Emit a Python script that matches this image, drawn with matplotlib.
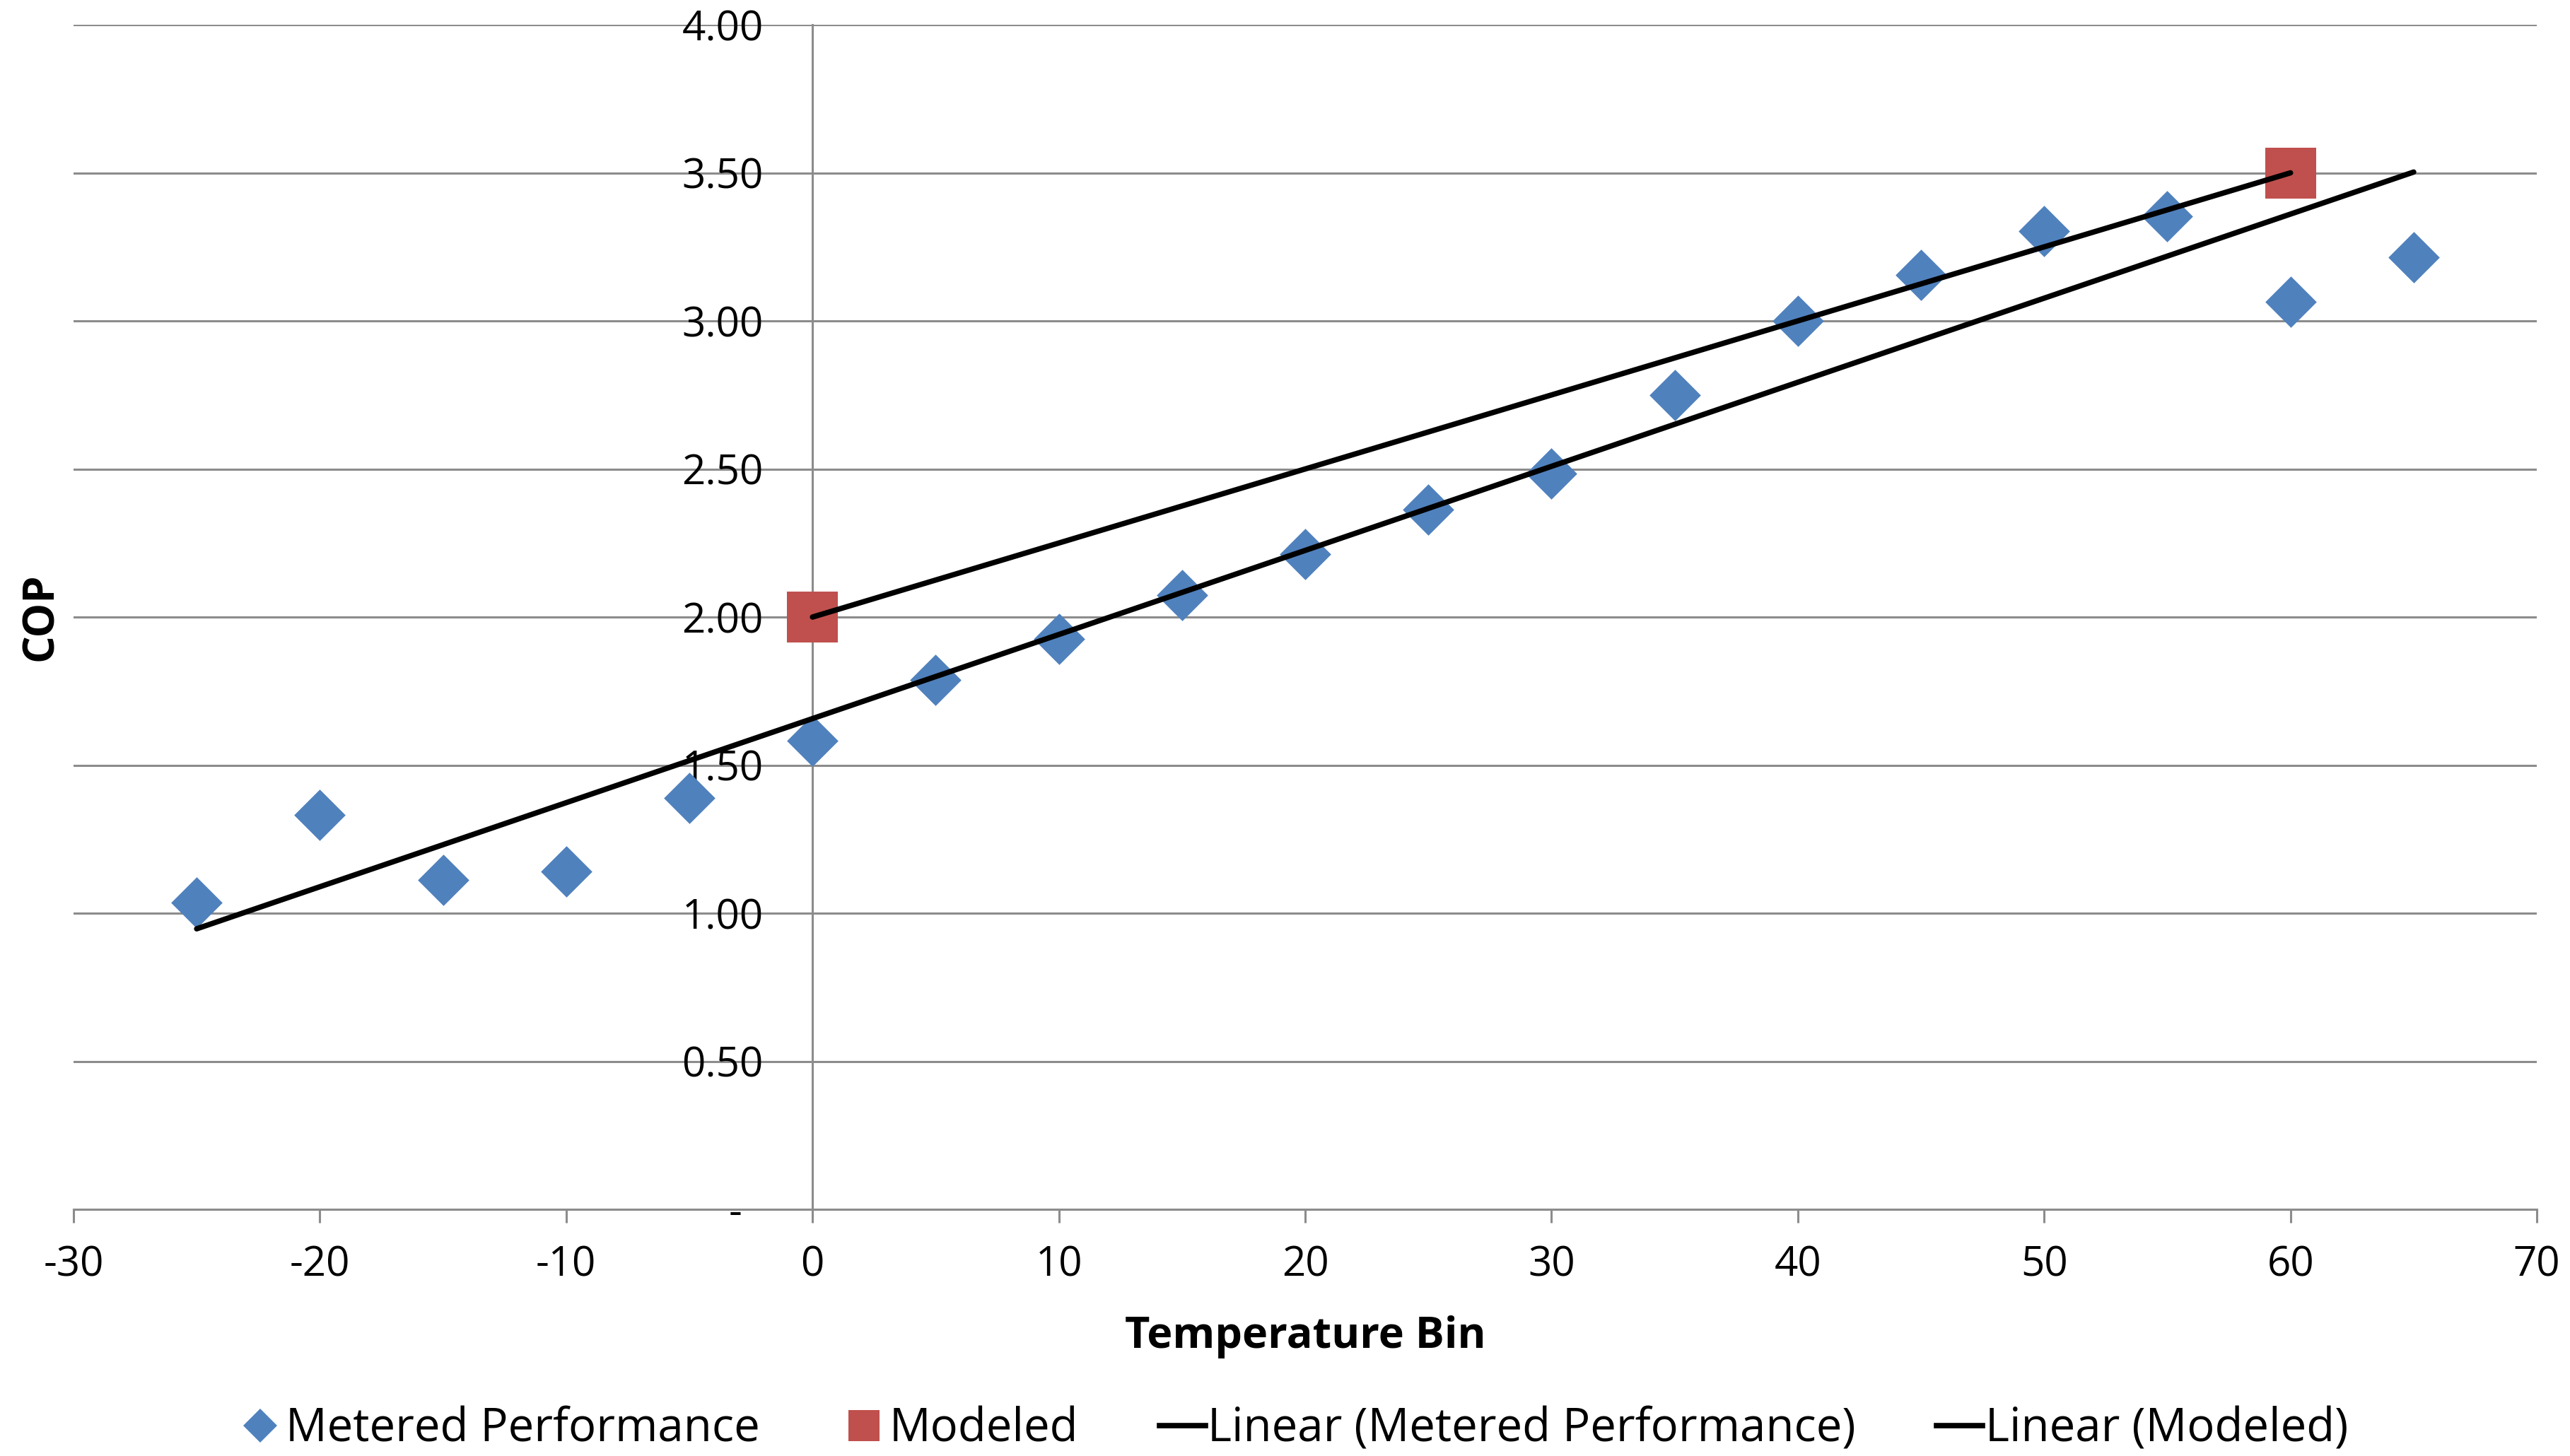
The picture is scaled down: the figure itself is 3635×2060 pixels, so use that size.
import numpy as np
import matplotlib.pyplot as plt
from matplotlib.lines import Line2D

plt.rcParams['font.family'] = ['Open Sans', 'DejaVu Sans']
plt.rcParams['axes.unicode_minus'] = False

# metered COP per temperature bin
temp_bins = [-25, -20, -15, -10, -5, 0, 5, 10, 15, 20, 25, 30, 35, 40, 45, 50, 55, 60, 65]
metered_cop = [1.035, 1.333, 1.112, 1.14, 1.389, 1.582, 1.787, 1.925, 2.075, 2.213,
               2.362, 2.484, 2.75, 2.999, 3.154, 3.303, 3.353, 3.065, 3.214]

# modeled points
modeled_temp = [0, 60]
modeled_cop = [2.00, 3.50]

y_ticks = [0, 0.5, 1.0, 1.5, 2.0, 2.5, 3.0, 3.5, 4.0]
y_tick_labels = ['-  ', '0.50', '1.00', '1.50', '2.00', '2.50', '3.00', '3.50', '4.00']
x_ticks = [-30, -20, -10, 0, 10, 20, 30, 40, 50, 60, 70]

blue = '#4F81BD'
red = '#C0504D'
grey = '#8C8C8C'

fig = plt.figure(figsize=(36.35, 20.6), dpi=100)
ax = fig.add_axes([0.0286, 0.1694, 0.9585, 0.8136])

ax.scatter(temp_bins, metered_cop, marker='D', s=37**2, color=blue, linewidths=0, zorder=3)
ax.scatter(modeled_temp, modeled_cop, marker='s', s=52**2, color=red, linewidths=0, zorder=3)

# linear trendlines like Excel
m1, b1 = np.polyfit(temp_bins, metered_cop, 1)
xs1 = np.array([min(temp_bins), max(temp_bins)])
ax.plot(xs1, m1 * xs1 + b1, color='black', lw=5.5, solid_capstyle='round', zorder=4)
m2, b2 = np.polyfit(modeled_temp, modeled_cop, 1)
xs2 = np.array([min(modeled_temp), max(modeled_temp)])
ax.plot(xs2, m2 * xs2 + b2, color='black', lw=5.5, solid_capstyle='round', zorder=4)

ax.set_xlim(-30, 70)
ax.set_ylim(0, 4.0)
ax.set_xticks(x_ticks)
ax.set_yticks(y_ticks)
ax.set_yticklabels(y_tick_labels)
ax.yaxis.grid(True, color=grey, lw=2.2)
ax.set_axisbelow(True)

for s in ['top', 'right']:
    ax.spines[s].set_visible(False)
ax.spines['left'].set_position(('data', 0))
ax.spines['left'].set_color(grey)
ax.spines['left'].set_linewidth(2.2)
ax.spines['bottom'].set_color(grey)
ax.spines['bottom'].set_linewidth(2.2)

ax.tick_params(axis='y', length=0, pad=50, labelsize=42)
ax.tick_params(axis='x', direction='out', length=14, width=2.2, color=grey, pad=22, labelsize=42)

ax.set_xlabel('Temperature Bin', fontsize=44, fontweight='bold', labelpad=30)
fig.text(0.016, 0.5765, 'COP', fontsize=44, fontweight='bold', rotation=90, ha='center', va='center')

handles = [
    Line2D([], [], marker='D', color=blue, ls='none', markersize=24, markeredgewidth=0),
    Line2D([], [], marker='s', color=red, ls='none', markersize=32, markeredgewidth=0),
    Line2D([], [], color='black', lw=5.5),
    Line2D([], [], color='black', lw=5.5),
]
labels = ['Metered Performance', 'Modeled', 'Linear (Metered Performance)', 'Linear (Modeled)']
fig.legend(handles, labels, loc='center', bbox_to_anchor=(0.503, 0.018), ncol=4, frameon=False,
           fontsize=47, handlelength=1.0, handletextpad=0.05, columnspacing=1.75)

plt.savefig('out.png', dpi=100)
